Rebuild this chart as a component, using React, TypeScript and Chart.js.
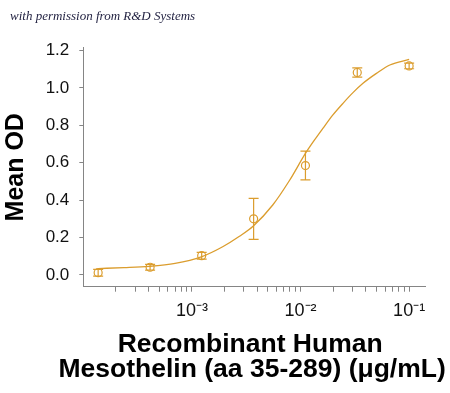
import React, { useEffect, useRef } from "react";
import { Chart, registerables } from "chart.js";

Chart.register(...registerables);

// Measured points (concentration in µg/mL, mean OD, error)
const concentrations = [1.37e-4, 4.12e-4, 1.23e-3, 3.7e-3, 0.0111, 0.0333, 0.1];
const meanOD = [0.012, 0.041, 0.103, 0.3, 0.585, 1.083, 1.118];
const errorOD = [0.018, 0.015, 0.018, 0.11, 0.077, 0.025, 0.015];

// Fitted curve
const fitConcentrations = [
  1.37e-4, 2.37e-4, 4.04e-4, 7.0e-4, 1.22e-3, 1.92e-3, 2.74e-3, 3.68e-3,
  5.55e-3, 7.91e-3, 0.0111, 0.01346, 0.01607, 0.01987, 0.0246, 0.0304,
  0.0376, 0.05, 0.0664, 0.1,
];
const fitOD = [
  0.034, 0.039, 0.046, 0.062, 0.097, 0.151, 0.207, 0.262,
  0.374, 0.505, 0.65, 0.722, 0.784, 0.856, 0.918, 0.975,
  1.025, 1.078, 1.123, 1.153,
];

const yTickValues = [0, 0.2, 0.4, 0.6, 0.8, 1.0, 1.2];
const xMajorTicks = [1e-3, 1e-2, 1e-1];
const xMajorLabels = ["10\u207B\u00B3", "10\u207B\u00B2", "10\u207B\u00B9"];
const xMinorTicks = [
  2e-4, 3e-4, 4e-4, 5e-4, 6e-4, 7e-4, 8e-4, 9e-4,
  2e-3, 3e-3, 4e-3, 5e-3, 6e-3, 7e-3, 8e-3, 9e-3,
  2e-2, 3e-2, 4e-2, 5e-2, 6e-2, 7e-2, 8e-2, 9e-2,
];

const creditText = "with permission from R&D Systems";
const yTitle = "Mean OD";
const xTitle = ["Recombinant Human", "Mesothelin (aa 35-289) (\u03BCg/mL)"];

const COLOR = "#DB9D2E";
const AXIS = "#858585";
const FONT = '"Liberation Sans", Arial, sans-serif';

const errorBarPlugin = {
  id: "errorBars",
  afterDatasetsDraw(chart: any) {
    const xs = chart.scales.x;
    const ys = chart.scales.y;
    const ctx = chart.ctx;
    ctx.save();
    ctx.strokeStyle = COLOR;
    ctx.lineWidth = 1.2;
    const cap = 5;
    for (let i = 0; i < concentrations.length; i++) {
      const x = xs.getPixelForValue(concentrations[i]);
      const yT = ys.getPixelForValue(meanOD[i] + errorOD[i]);
      const yB = ys.getPixelForValue(meanOD[i] - errorOD[i]);
      ctx.beginPath();
      ctx.moveTo(x, yT);
      ctx.lineTo(x, yB);
      ctx.moveTo(x - cap, yT);
      ctx.lineTo(x + cap, yT);
      ctx.moveTo(x - cap, yB);
      ctx.lineTo(x + cap, yB);
      ctx.stroke();
    }
    ctx.restore();
  },
};

const textPlugin = {
  id: "texts",
  afterDraw(chart: any) {
    const ctx = chart.ctx;
    ctx.save();
    ctx.font = 'italic 13px "Liberation Serif", "DejaVu Serif", serif';
    ctx.fillStyle = "#1f1f3f";
    ctx.textBaseline = "middle";
    ctx.textAlign = "left";
    ctx.fillText(creditText, 10, 17);

    // x-axis title (drawn without the width squeeze of the scale title)
    const area = chart.chartArea;
    const cx = (area.left + area.right) / 2 - 2;
    ctx.font = `bold 26.5px ${FONT}`;
    ctx.fillStyle = "#000";
    ctx.textAlign = "center";
    ctx.textBaseline = "alphabetic";
    const xScale = chart.scales.x;
    const base = xScale.bottom - 16.3;
    ctx.fillText(xTitle[0], cx - 2, base - 25);
    ctx.fillText(xTitle[1], cx, base);
    ctx.restore();
  },
};

export default function App() {
  const ref = useRef<HTMLCanvasElement | null>(null);

  useEffect(() => {
    if (!ref.current) return;
    const chart = new Chart(ref.current, {
      type: "scatter",
      data: {
        datasets: [
          {
            label: "fit",
            data: fitConcentrations.map((c, i) => ({ x: c, y: fitOD[i] })),
            showLine: true,
            borderColor: COLOR,
            borderWidth: 1.3,
            pointRadius: 0,
            cubicInterpolationMode: "monotone",
            fill: false,
          },
          {
            label: "data",
            data: concentrations.map((c, i) => ({ x: c, y: meanOD[i] })),
            showLine: false,
            borderColor: COLOR,
            backgroundColor: "rgba(0,0,0,0)",
            pointRadius: 4,
            pointBorderWidth: 1.2,
            pointStyle: "circle",
          },
        ],
      },
      options: {
        animation: false,
        responsive: false,
        devicePixelRatio: 1,
        layout: { padding: { top: 47.8, right: 25, left: 0, bottom: 0 } },
        plugins: {
          legend: { display: false },
          tooltip: { enabled: false },
          title: { display: false },
        },
        scales: {
          x: {
            type: "logarithmic",
            min: 1e-4,
            max: 0.14,
            afterBuildTicks: (axis: any) => {
              axis.ticks = [...xMinorTicks, ...xMajorTicks]
                .sort((a, b) => a - b)
                .map((v) => ({ value: v }));
            },
            afterFit: (axis: any) => {
              axis.height = 106.3;
            },
            ticks: {
              autoSkip: false,
              maxRotation: 0,
              minRotation: 0,
              padding: 9,
              color: "#111",
              font: { family: FONT, size: 18 },
              callback: (value: any) => {
                const idx = xMajorTicks.findIndex(
                  (m) => Math.abs(Math.log10(m) - Math.log10(Number(value))) < 1e-6
                );
                return idx >= 0 ? xMajorLabels[idx] : "";
              },
            },
            grid: {
              display: true,
              drawOnChartArea: false,
              drawTicks: true,
              tickLength: 5,
              color: AXIS,
              lineWidth: 1,
            },
            border: { display: true, color: AXIS, width: 1 },
            title: { display: false },
          },
          y: {
            type: "linear",
            min: -0.063,
            max: 1.215,
            afterBuildTicks: (axis: any) => {
              axis.ticks = yTickValues.map((v) => ({ value: v }));
            },
            afterFit: (axis: any) => {
              axis.width = 83.3;
            },
            ticks: {
              padding: 10,
              color: "#111",
              font: { family: FONT, size: 17 },
              callback: (value: any) => Number(value).toFixed(1),
            },
            grid: {
              display: true,
              drawOnChartArea: false,
              drawTicks: true,
              tickLength: 4,
              color: AXIS,
              lineWidth: 1,
            },
            border: { display: true, color: AXIS, width: 1 },
            title: {
              display: true,
              text: yTitle,
              color: "#000",
              font: { family: FONT, size: 25, weight: "bold", lineHeight: 1.2 },
              padding: { top: 1, bottom: 0 },
            },
          },
        },
      },
      plugins: [errorBarPlugin, textPlugin],
    } as any);
    return () => chart.destroy();
  }, []);

  return (
    <div style={{ position: "absolute", left: 0, top: 0, width: 450, height: 393, background: "#fff" }}>
      <canvas ref={ref} width={450} height={393} style={{ display: "block" }} />
    </div>
  );
}
